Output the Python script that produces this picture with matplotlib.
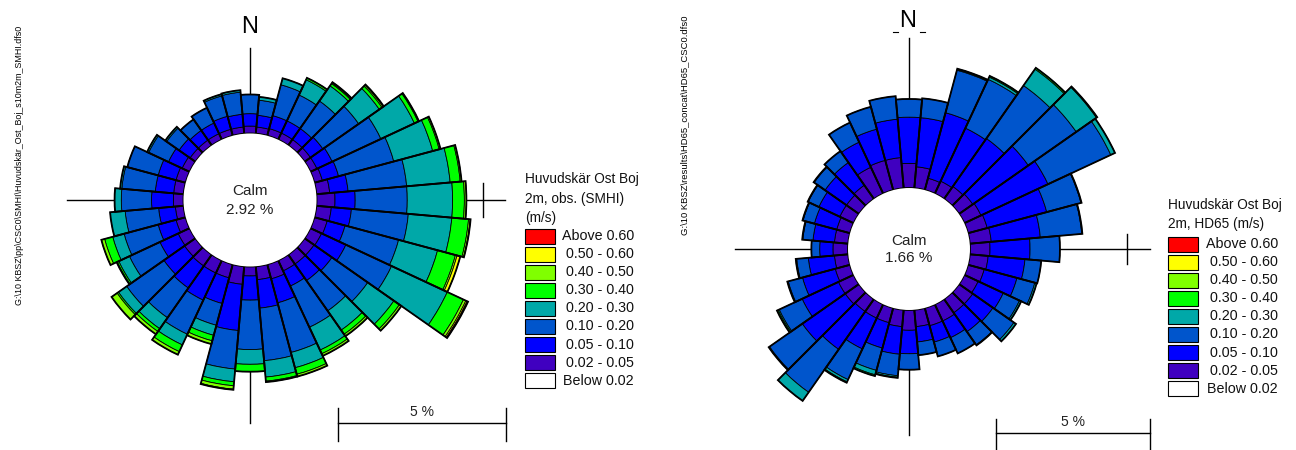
import matplotlib
matplotlib.use("Agg")
import matplotlib.pyplot as plt
from matplotlib.patches import Wedge, Rectangle
from matplotlib.lines import Line2D
import numpy as np

plt.rcParams['font.family'] = ['Liberation Sans', 'DejaVu Sans']

# ---------------------------------------------------------------- data
directions = list(range(0, 360, 10))          # sector centres, degrees from north

legend_labels = ["Above 0.60", "0.50 - 0.60", "0.40 - 0.50", "0.30 - 0.40",
                 "0.20 - 0.30", "0.10 - 0.20", "0.05 - 0.10", "0.02 - 0.05",
                 "Below 0.02"]
legend_colors = ["#ff0000", "#ffff00", "#80ff00", "#00ff00",
                 "#00a8a8", "#0055cc", "#0000ff", "#4000c0", "#ffffff"]

# Observed (SMHI) frequency in % per direction, one list per speed class
obs_002_005 = [0.22, 0.20, 0.22, 0.22, 0.22, 0.22, 0.22, 0.25, 0.40, 0.55, 0.45, 0.40,
               0.37, 0.35, 0.35, 0.35, 0.45, 0.40, 0.28, 0.54, 0.42, 0.42, 0.42, 0.40,
               0.38, 0.30, 0.25, 0.30, 0.30, 0.30, 0.25, 0.20, 0.20, 0.20, 0.20, 0.20]
obs_005_010 = [0.37, 0.35, 0.40, 0.40, 0.40, 0.45, 0.50, 0.50, 0.55, 0.60, 0.60, 0.55,
               0.80, 0.65, 0.60, 0.50, 0.74, 0.85, 0.72, 1.38, 0.79, 0.89, 0.80, 0.75,
               0.60, 0.55, 0.50, 0.65, 0.55, 0.55, 0.45, 0.40, 0.35, 0.35, 0.40, 0.38]
obs_010_020 = [0.57, 0.45, 0.95, 0.85, 1.00, 1.30, 1.60, 1.70, 1.75, 1.55, 1.70, 1.65,
               1.50, 1.30, 1.10, 1.35, 1.53, 1.57, 1.47, 1.15, 0.67, 1.12, 1.08, 1.35,
               1.00, 1.05, 1.00, 0.90, 1.00, 0.95, 0.65, 0.45, 0.40, 0.50, 0.63, 0.66]
obs_020_030 = [0.00, 0.10, 0.20, 0.50, 0.55, 0.75, 1.10, 1.20, 1.30, 1.35, 1.30, 1.20,
               1.83, 0.95, 0.70, 0.75, 0.47, 0.49, 0.44, 0.38, 0.31, 0.35, 0.40, 0.30,
               0.35, 0.35, 0.45, 0.20, 0.05, 0.00, 0.05, 0.05, 0.00, 0.00, 0.05, 0.06]
obs_030_040 = [0.00, 0.00, 0.00, 0.06, 0.08, 0.10, 0.12, 0.20, 0.30, 0.35, 0.50, 0.55,
               0.53, 0.20, 0.15, 0.12, 0.20, 0.12, 0.22, 0.12, 0.17, 0.22, 0.10, 0.05,
               0.05, 0.25, 0.00, 0.00, 0.00, 0.00, 0.00, 0.00, 0.00, 0.00, 0.00, 0.00]
obs_040_050 = [0.00, 0.00, 0.00, 0.00, 0.03, 0.04, 0.03, 0.04, 0.04, 0.06, 0.05, 0.05,
               0.08, 0.07, 0.07, 0.07, 0.07, 0.03, 0.00, 0.10, 0.10, 0.10, 0.10, 0.20,
               0.02, 0.10, 0.00, 0.00, 0.00, 0.00, 0.00, 0.00, 0.00, 0.00, 0.00, 0.00]
obs_050_060 = [0.00, 0.00, 0.00, 0.00, 0.02, 0.02, 0.00, 0.00, 0.00, 0.00, 0.00, 0.10,
               0.04, 0.00, 0.00, 0.00, 0.00, 0.00, 0.00, 0.02, 0.00, 0.00, 0.00, 0.00,
               0.00, 0.00, 0.00, 0.00, 0.00, 0.00, 0.00, 0.00, 0.00, 0.00, 0.00, 0.00]
obs_above_060 = [0.00, 0.00, 0.00, 0.00, 0.00, 0.00, 0.00, 0.00, 0.00, 0.00, 0.01, 0.00,
                 0.03, 0.00, 0.00, 0.00, 0.00, 0.00, 0.00, 0.00, 0.00, 0.00, 0.00, 0.00,
                 0.00, 0.00, 0.00, 0.00, 0.00, 0.00, 0.00, 0.00, 0.00, 0.00, 0.00, 0.00]

# HD65 model frequency in % per direction, one list per speed class
hd_002_005 = [0.80, 0.70, 0.40, 0.45, 0.50, 0.55, 0.60, 0.65, 0.70, 0.65, 0.60, 0.55,
              0.50, 0.55, 0.55, 0.60, 0.60, 0.55, 0.66, 0.55, 0.50, 0.50, 0.50, 0.55,
              0.55, 0.50, 0.45, 0.49, 0.45, 0.45, 0.50, 0.50, 0.55, 0.95, 1.00, 1.00]
hd_005_010 = [1.50, 1.60, 2.20, 1.90, 1.90, 2.20, 2.40, 2.00, 1.60, 1.30, 1.20, 1.10,
              0.90, 0.80, 0.75, 0.60, 0.55, 0.50, 0.76, 0.90, 0.85, 1.10, 1.50, 1.70,
              1.30, 1.10, 0.85, 0.43, 0.70, 0.75, 0.75, 0.85, 0.90, 0.90, 1.05, 1.25]
hd_010_020 = [0.59, 0.63, 1.43, 1.75, 2.10, 1.90, 2.25, 1.15, 1.35, 0.97, 0.53, 0.60,
              0.58, 0.83, 0.52, 0.56, 0.48, 0.43, 0.52, 0.70, 0.75, 1.10, 1.70, 1.30,
              0.82, 0.48, 0.38, 0.27, 0.33, 0.38, 0.38, 0.43, 0.45, 0.70, 0.75, 0.75]
hd_020_030 = [0.00, 0.00, 0.03, 0.08, 0.65, 0.80, 0.15, 0.02, 0.02, 0.00, 0.00, 0.06,
              0.06, 0.08, 0.02, 0.00, 0.00, 0.00, 0.00, 0.05, 0.15, 0.08, 0.34, 0.03,
              0.04, 0.03, 0.03, 0.00, 0.02, 0.02, 0.02, 0.02, 0.00, 0.00, 0.00, 0.00]
hd_030_040 = [0.00, 0.00, 0.02, 0.04, 0.05, 0.03, 0.00, 0.00, 0.00, 0.00, 0.00, 0.00,
              0.00, 0.00, 0.00, 0.00, 0.00, 0.00, 0.00, 0.02, 0.04, 0.03, 0.00, 0.00,
              0.04, 0.00, 0.00, 0.00, 0.00, 0.00, 0.00, 0.00, 0.00, 0.00, 0.00, 0.00]
hd_zero = [0.0] * 36

obs_classes = [obs_002_005, obs_005_010, obs_010_020, obs_020_030,
               obs_030_040, obs_040_050, obs_050_060, obs_above_060]
hd_classes = [hd_002_005, hd_005_010, hd_010_020, hd_020_030,
              hd_030_040, hd_zero, hd_zero, hd_zero]
class_colors = legend_colors[7::-1]   # slowest band first

calm_obs = "2.92 %"
calm_hd = "1.66 %"
legend_title_obs = "Huvudskär Ost Boj\n2m, obs. (SMHI)\n(m/s)"
legend_title_hd = "Huvudskär Ost Boj\n2m, HD65 (m/s)"
path_obs = r"G:\10 KBSZ\pp\CSC0\SMHI\Huvudskär_Ost_Boj_s10m2m_SMHI.dfs0"
path_hd = r"G:\10 KBSZ\results\HD65_concat\HD65_CSC0.dfs0"

# ---------------------------------------------------------------- drawing
W, H = 1296, 450
fig = plt.figure(figsize=(W / 100, H / 100), dpi=100)
fig.patch.set_facecolor("white")

R0 = 1.98      # radius of the calm circle, in %
SECTOR = 10.0


def draw_rose(ax, classes, calm_text, hline, vline, tick_x, bar_x0, bar_y, bar_tick):
    ax.set_axis_off()
    # crosshair and 5 % marker
    ax.plot([hline[0], hline[1]], [0, 0], color="black", lw=1.0, zorder=0)
    ax.plot([0, 0], [vline[0], vline[1]], color="black", lw=1.0, zorder=0)
    ax.plot([tick_x, tick_x], [-0.5, 0.5], color="black", lw=1.0, zorder=0)
    for i, d in enumerate(directions):
        t1 = 90 - d - SECTOR / 2
        t2 = 90 - d + SECTOR / 2
        r = R0
        for vals, col in zip(classes, class_colors):
            v = vals[i]
            if v <= 0:
                continue
            ax.add_patch(Wedge((0, 0), r + v, t1, t2, width=v, facecolor=col,
                               edgecolor="black", lw=0.6, zorder=2))
            r += v
        ax.add_patch(Wedge((0, 0), r, t1, t2, width=r - R0, fill=False,
                           edgecolor="black", lw=1.3, zorder=3))
    ax.add_patch(plt.Circle((0, 0), R0, facecolor="white", edgecolor="none", zorder=4))
    ax.text(0, 0.27, "Calm", ha="center", va="center", fontsize=11, color="#222222", zorder=5)
    ax.text(0, -0.30, calm_text, ha="center", va="center", fontsize=11, color="#222222", zorder=5)
    # 5 % scale bar
    ax.plot([bar_x0, bar_x0 + 5], [bar_y, bar_y], color="black", lw=1.0)
    for x in (bar_x0, bar_x0 + 5):
        ax.plot([x, x], [bar_tick[0], bar_tick[1]], color="black", lw=1.0)
    ax.text(bar_x0 + 2.5, bar_y + 0.12, "5 %", ha="center", va="bottom", fontsize=10,
            color="#222222")


def px_axes(x0, x1, cx, cy, scale):
    ax = fig.add_axes([x0 / W, 0, (x1 - x0) / W, 1])
    ax.set_xlim((x0 - cx) / scale, (x1 - cx) / scale)
    ax.set_ylim((cy - H) / scale, cy / scale)
    return ax


# left rose: observations
s1 = 33.6
ax1 = px_axes(0, 640, 250, 200, s1)
draw_rose(ax1, obs_classes, calm_obs,
          hline=(-5.45, 7.59), vline=(-6.64, 4.52), tick_x=6.94,
          bar_x0=2.62, bar_y=-6.64, bar_tick=(-6.18, -7.17))

# right rose: HD65 model
s2 = 30.8
ax2 = px_axes(640, 1296, 909, 249, s2)
draw_rose(ax2, hd_classes, calm_hd,
          hline=(-5.65, 7.82), vline=(-6.04, 6.85), tick_x=7.09,
          bar_x0=2.82, bar_y=-5.97, bar_tick=(-5.52, -6.6))

# north labels
fig.text(250 / W, 1 - 27 / H, "N", ha="center", va="center", fontsize=17)
fig.text(908 / W, 1 - 21 / H, "N", ha="center", va="center", fontsize=17)
for xa, xb in ((893, 898), (920, 925)):
    fig.add_artist(Line2D([xa / W, xb / W], [1 - 32 / H, 1 - 32 / H],
                          color="black", lw=0.8))

# file path annotations
fig.text(20 / W, 1 - 165 / H, path_obs, rotation=90, ha="center", va="center", fontsize=6.4)
fig.text(685 / W, 1 - 125 / H, path_hd, rotation=90, ha="center", va="center", fontsize=6.8)


def draw_legend(x_box, x_text_right, y_title, title, y_first, step):
    fig.text(x_box / W, 1 - y_title / H, title, ha="left", va="top", fontsize=9.8,
             linespacing=1.5, color="#111111")
    for k, (lab, col) in enumerate(zip(legend_labels, legend_colors)):
        yc = y_first + k * step
        fig.add_artist(Rectangle((x_box / W, 1 - (yc + 7.5) / H), 30 / W, 15 / H,
                                 facecolor=col, edgecolor="black", lw=0.8,
                                 transform=fig.transFigure))
        fig.text(x_text_right / W, 1 - yc / H, lab, ha="right", va="center",
                 fontsize=10.3, color="#111111")


draw_legend(525, 634, 172, legend_title_obs, 236, 18.1)
draw_legend(1168, 1278, 198, legend_title_hd, 244, 18.1)

fig.savefig("out.png", dpi=100)
